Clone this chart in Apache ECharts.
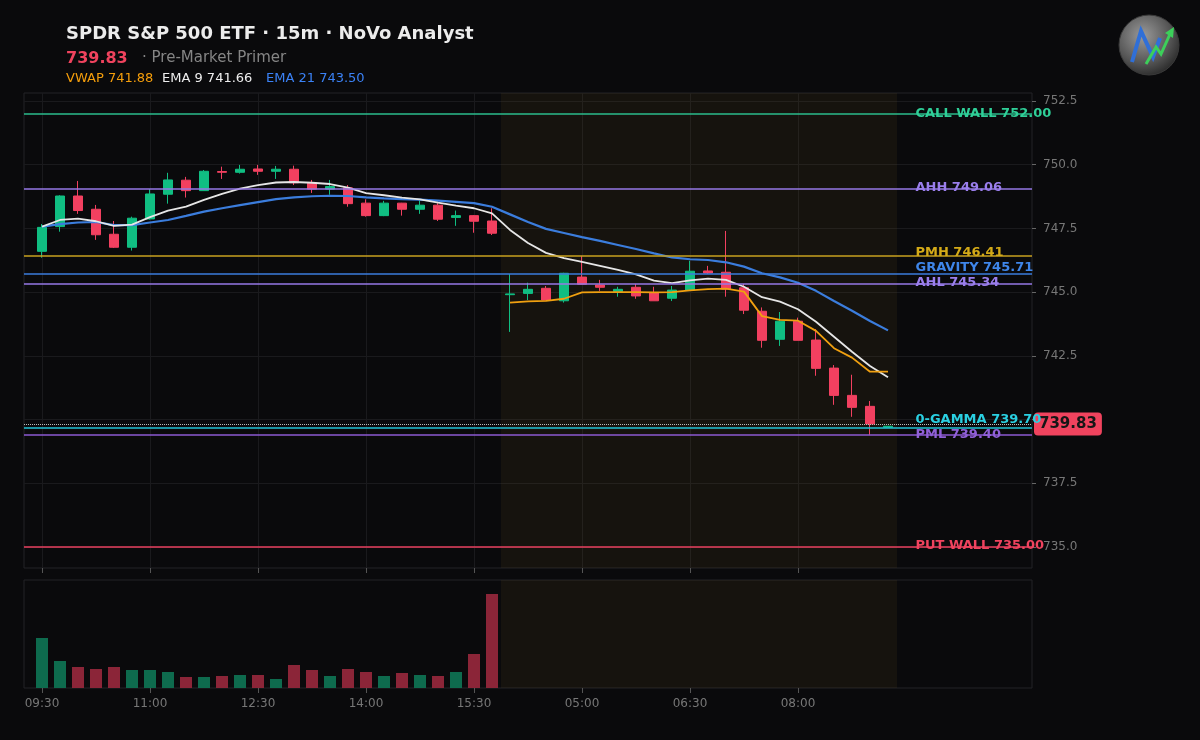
<!DOCTYPE html>
<html>
<head>
<meta charset="utf-8">
<title>SPDR S&P 500 ETF · 15m</title>
<script src="https://cdn.jsdelivr.net/npm/echarts@6/dist/echarts.min.js"></script>
<style>
  html, body { margin: 0; padding: 0; background: #0a0a0c; }
  #chart { width: 1200px; height: 740px; }
</style>
</head>
<body>
<div id="chart"></div>
<script>
// bar times: regular session, then the pre-market session
const times = [
  '09:30','09:45','10:00','10:15','10:30','10:45','11:00','11:15','11:30','11:45','12:00','12:15','12:30',
  '12:45','13:00','13:15','13:30','13:45','14:00','14:15','14:30','14:45','15:00','15:15','15:30','15:45',
  '04:00','04:15','04:30','04:45','05:00','05:15','05:30','05:45','06:00','06:15','06:30','06:45',
  '07:00','07:15','07:30','07:45','08:00','08:15','08:30','08:45','09:00','09:15'
];
const tickIdx = [0, 6, 12, 18, 24, 30, 36, 42];
const yTicks = [735, 737.5, 740, 742.5, 745, 747.5, 750, 752.5];

const opens = [
  746.60, 747.57, 748.77, 748.25, 747.27, 746.76, 747.87, 748.84, 749.39, 748.98, 749.73, 749.70, 749.83,
  749.74, 749.82, 749.27, 749.04, 749.09, 748.49, 748.00, 748.49, 748.25, 748.41, 747.93, 748.00, 747.79,
  744.90, 744.95, 745.15, 744.66, 745.59, 745.28, 745.02, 745.19, 744.98, 744.76, 745.08, 745.83,
  745.78, 745.17, 744.25, 743.15, 743.86, 743.12, 742.02, 740.95, 740.52, 739.70
];
const closes = [
  747.54, 748.77, 748.20, 747.25, 746.76, 747.90, 748.85, 749.40, 748.98, 749.74, 749.70, 749.82, 749.74,
  749.82, 749.29, 749.04, 749.14, 748.47, 748.00, 748.49, 748.25, 748.41, 747.86, 748.00, 747.78, 747.31,
  744.93, 745.11, 744.69, 745.74, 745.31, 745.19, 745.11, 744.85, 744.66, 745.08, 745.82, 745.75,
  745.12, 744.29, 743.11, 743.86, 743.11, 742.01, 740.95, 740.48, 739.83, 739.74
];
const lows = [
  746.35, 747.37, 748.07, 747.05, 746.73, 746.63, 747.85, 748.47, 748.71, 748.98, 749.44, 749.65, 749.60,
  749.44, 749.20, 748.89, 748.82, 748.35, 747.96, 747.98, 748.00, 748.07, 747.79, 747.60, 747.33, 747.24,
  743.44, 744.69, 744.69, 744.59, 745.31, 745.05, 744.82, 744.74, 744.66, 744.65, 745.05, 745.71,
  744.82, 744.14, 742.82, 742.89, 743.11, 741.72, 740.58, 740.11, 739.39, 739.70
];
const highs = [
  747.67, 748.80, 749.36, 748.42, 747.79, 747.96, 749.04, 749.68, 749.52, 749.79, 749.92, 749.99, 749.99,
  749.95, 749.96, 749.40, 749.40, 749.20, 748.64, 748.58, 748.50, 748.59, 748.49, 748.20, 748.02, 748.29,
  745.71, 745.37, 745.24, 745.76, 746.42, 745.48, 745.21, 745.32, 745.21, 745.24, 746.23, 746.03,
  747.40, 745.32, 744.40, 744.22, 744.00, 743.55, 742.14, 741.76, 740.73, 739.75
];

const ema9 = [
  747.57, 747.83, 747.88, 747.78, 747.60, 747.65, 747.94, 748.20, 748.35, 748.62, 748.85, 749.06, 749.20,
  749.30, 749.32, 749.29, 749.24, 749.10, 748.88, 748.80, 748.71, 748.64, 748.51, 748.39, 748.29, 748.09,
  747.44, 746.93, 746.54, 746.33, 746.19, 746.03, 745.87, 745.70, 745.45, 745.35, 745.46, 745.53,
  745.48, 745.21, 744.80, 744.63, 744.33, 743.84, 743.25, 742.66, 742.10, 741.66
];
const ema21 = [
  747.57, 747.67, 747.73, 747.75, 747.63, 747.63, 747.73, 747.83, 747.99, 748.16, 748.29, 748.41, 748.53,
  748.65, 748.72, 748.76, 748.78, 748.77, 748.72, 748.68, 748.65, 748.63, 748.59, 748.54, 748.49, 748.35,
  748.05, 747.75, 747.48, 747.32, 747.16, 747.01, 746.85, 746.69, 746.52, 746.36, 746.29, 746.26,
  746.17, 746.00, 745.74, 745.58, 745.37, 745.05, 744.65, 744.27, 743.87, 743.50
];
// VWAP is only drawn for the pre-market bars
const vwap = [
  null, null, null, null, null, null, null, null, null, null, null, null, null,
  null, null, null, null, null, null, null, null, null, null, null, null, null,
  744.59, 744.64, 744.66, 744.74, 744.99, 745.00, 745.00, 745.00, 744.99, 745.00, 745.07, 745.12,
  745.14, 745.02, 744.06, 743.91, 743.88, 743.48, 742.80, 742.43, 741.88, 741.88
];
// volume, millions of shares (regular session only)
const volume = [
  2.50, 1.35, 1.05, 0.95, 1.05, 0.90, 0.90, 0.80, 0.55, 0.55, 0.60, 0.65, 0.65,
  0.45, 1.15, 0.90, 0.60, 0.95, 0.80, 0.60, 0.75, 0.65, 0.60, 0.80, 1.70, 4.70
];

const levelNames = ['CALL WALL', 'AHH', 'PMH', 'GRAVITY', 'AHL', '0-GAMMA', 'PML', 'PUT WALL'];
const levelValues = [752.00, 749.06, 746.41, 745.71, 745.34, 739.70, 739.40, 735.00];
const lastPrice = 739.83;
const premarket = [25.5, 47.5];

// styles
const UP = '#10be82', DOWN = '#f24060';
const VOL_UP = '#0e6b4e', VOL_DOWN = '#8b2538';
const levelColors = ['#2bbd8c', '#9678e6', '#c9a21f', '#3b7ddd', '#9678e6', '#22c3d6', '#8c5ad2', '#e8405f'];
const levelLabelColors = ['#2fcf98', '#9a7eec', '#d4aa18', '#3f86ea', '#9a7eec', '#2ad0e2', '#9060d8', '#f0435e'];
const levelLabelDy = [0, -1, -4, -6, -1, -8, 0, -1];
const LABEL_X = 48.5;
const FONT = '"DejaVu Sans", sans-serif';

const chart = echarts.init(document.getElementById('chart'), null, { renderer: 'canvas' });

const candleData = times.map((t, i) => [i, opens[i], closes[i], lows[i], highs[i]]);
const lineData = arr => arr.map((v, i) => [i, v == null ? '-' : v]);
const volData = volume.map((v, i) => ({
  value: [i, v],
  itemStyle: { color: closes[i] >= opens[i] ? VOL_UP : VOL_DOWN }
}));
const shade = { silent: true, itemStyle: { color: 'rgba(160,130,40,0.08)' }, data: [[{ xAxis: premarket[0] }, { xAxis: premarket[1] }]] };

const option = {
  backgroundColor: '#0a0a0c',
  animation: false,
  textStyle: { fontFamily: FONT },
  graphic: [
    { type: 'text', left: 66, top: 25, style: { text: 'SPDR S&P 500 ETF · 15m · NoVo Analyst', fill: '#ececec', font: 'bold 18px ' + FONT } },
    { type: 'text', left: 66, top: 51, style: { text: lastPrice.toFixed(2), fill: '#f0435e', font: 'bold 16px ' + FONT } },
    { type: 'text', left: 142, top: 51, style: { text: '· Pre-Market Primer', fill: '#858585', font: '15px ' + FONT } },
    { type: 'text', left: 66, top: 72, style: { text: 'VWAP ' + vwap[vwap.length - 1].toFixed(2), fill: '#f59e0b', font: '13px ' + FONT } },
    { type: 'text', left: 162, top: 72, style: { text: 'EMA 9 ' + ema9[ema9.length - 1].toFixed(2), fill: '#eeeeee', font: '13px ' + FONT } },
    { type: 'text', left: 266, top: 72, style: { text: 'EMA 21 ' + ema21[ema21.length - 1].toFixed(2), fill: '#3b82f6', font: '13px ' + FONT } },
    {
      type: 'group', children: [
        { type: 'circle', shape: { cx: 1149, cy: 45, r: 30 },
          style: { fill: new echarts.graphic.RadialGradient(0.4, 0.35, 0.75, [
            { offset: 0, color: '#9a9a9a' }, { offset: 0.6, color: '#555' }, { offset: 1, color: '#1e1e1e' }]),
            stroke: '#3a3a3a', lineWidth: 1 } },
        { type: 'polyline', shape: { points: [[1132, 62], [1141, 31], [1153, 57], [1160, 38]] },
          style: { stroke: '#2f6fd8', lineWidth: 4, fill: null } },
        { type: 'polyline', shape: { points: [[1146, 64], [1156, 47], [1161, 54], [1170, 34]] },
          style: { stroke: '#3ccf5a', lineWidth: 3, fill: null } },
        { type: 'polygon', shape: { points: [[1165, 33], [1174, 27], [1173, 38]] },
          style: { fill: '#3ccf5a' } }
      ]
    }
  ],
  grid: [
    { left: 24, right: 168, top: 93, height: 475, show: true, borderColor: '#232326', borderWidth: 1, backgroundColor: 'transparent' },
    { left: 24, right: 168, top: 580, height: 108, show: true, borderColor: '#232326', borderWidth: 1, backgroundColor: 'transparent' }
  ],
  xAxis: [
    {
      type: 'value', gridIndex: 0, min: -1, max: 55,
      axisLine: { show: false, onZero: false },
      axisTick: { show: true, customValues: tickIdx, length: 5, lineStyle: { color: '#555' } },
      axisLabel: { show: false, customValues: tickIdx },
      splitLine: { show: true, lineStyle: { color: '#1a1a1d' } }
    },
    {
      type: 'value', gridIndex: 1, min: -1, max: 55,
      axisLine: { show: false, onZero: false },
      axisTick: { show: true, customValues: tickIdx, length: 5, lineStyle: { color: '#555' } },
      axisLabel: { customValues: tickIdx, formatter: v => times[v], color: '#777', fontSize: 12, margin: 10 },
      splitLine: { show: false }
    }
  ],
  yAxis: [
    {
      type: 'value', gridIndex: 0, position: 'right', min: 734.18, max: 752.81,
      axisLine: { show: false, onZero: false },
      axisTick: { show: true, customValues: yTicks, length: 4, lineStyle: { color: '#666' } },
      axisLabel: { customValues: yTicks, formatter: v => v.toFixed(1), color: '#777', fontSize: 12, margin: 11 },
      splitLine: { show: true, lineStyle: { color: '#1a1a1d' } }
    },
    { type: 'value', gridIndex: 1, min: 0, max: 5.4, show: false, splitLine: { show: false } }
  ],
  series: [
    {
      name: 'levels', type: 'line', xAxisIndex: 0, yAxisIndex: 0, data: [], z: 1,
      markArea: shade,
      markLine: {
        silent: true, symbol: ['none', 'none'], animation: false,
        label: { show: false },
        data: levelValues.map((v, i) => ({ yAxis: v, lineStyle: { color: levelColors[i], width: 1.6, type: 'solid' } }))
      }
    },
    {
      name: 'SPY', type: 'candlestick', xAxisIndex: 0, yAxisIndex: 0, z: 2,
      data: candleData, encode: { x: 0, y: [1, 2, 3, 4] },
      barWidth: 10,
      itemStyle: { color: UP, color0: DOWN, borderColor: UP, borderColor0: DOWN, borderWidth: 1 }
    },
    {
      name: 'EMA 21', type: 'line', xAxisIndex: 0, yAxisIndex: 0, z: 3,
      data: lineData(ema21), symbol: 'none', lineStyle: { color: '#3b7ddd', width: 2.2 }
    },
    {
      name: 'EMA 9', type: 'line', xAxisIndex: 0, yAxisIndex: 0, z: 3,
      data: lineData(ema9), symbol: 'none', lineStyle: { color: '#e6e6e6', width: 1.8 }
    },
    {
      name: 'VWAP', type: 'line', xAxisIndex: 0, yAxisIndex: 0, z: 3,
      data: lineData(vwap), symbol: 'none', lineStyle: { color: '#f0a010', width: 1.8 }
    },
    {
      name: 'level labels', type: 'line', xAxisIndex: 0, yAxisIndex: 0, data: [], z: 4,
      markPoint: {
        silent: true, symbol: 'circle', symbolSize: 1, itemStyle: { color: 'transparent' },
        data: levelValues.map((v, i) => ({
          coord: [LABEL_X, v],
          label: {
            show: true, position: 'right', distance: 0, offset: [0, levelLabelDy[i]],
            formatter: levelNames[i] + ' ' + v.toFixed(2),
            color: levelLabelColors[i], fontWeight: 'bold', fontSize: 13, fontFamily: FONT
          }
        }))
      }
    },
    {
      name: 'last', type: 'line', xAxisIndex: 0, yAxisIndex: 0, data: [], z: 6,
      markLine: {
        silent: true, symbol: ['none', 'none'], animation: false,
        lineStyle: { color: '#bbbbbb', type: 'dotted', width: 1 },
        label: {
          show: true, position: 'end', distance: 2, formatter: lastPrice.toFixed(2),
          backgroundColor: '#f0435e', color: '#161616', fontWeight: 'bold', fontSize: 15,
          padding: [4, 5, 4, 5], borderRadius: 4, fontFamily: FONT
        },
        data: [{ yAxis: lastPrice }]
      }
    },
    {
      name: 'Volume', type: 'bar', xAxisIndex: 1, yAxisIndex: 1, z: 2,
      data: volData, barWidth: 12,
      markArea: shade
    }
  ]
};

chart.setOption(option);
</script>
</body>
</html>
